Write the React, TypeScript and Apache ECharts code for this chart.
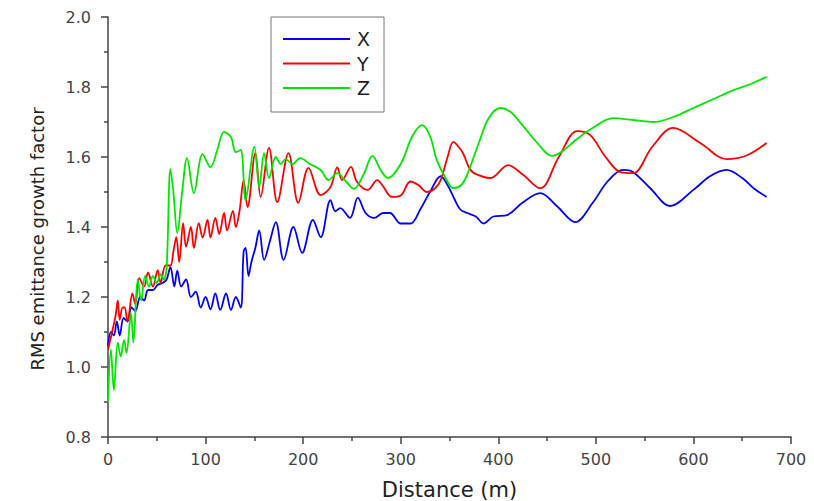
import React, { useEffect, useRef } from "react";
import * as echarts from "echarts";

const legendNames = ["X", "Y", "Z"];
const xTickValues = [0, 100, 200, 300, 400, 500, 600, 700];
const yTickValues = [0.8, 1.0, 1.2, 1.4, 1.6, 1.8, 2.0];

const seriesX: [number, number][] = [
  [0, 1.06], [3, 1.1], [6, 1.09], [9, 1.13], [12, 1.09], [16, 1.14], [20, 1.13], [24, 1.17],
  [28, 1.16], [33, 1.2], [37, 1.19], [41, 1.22], [46, 1.22], [51, 1.235], [56, 1.24], [60, 1.25],
  [64, 1.285], [68, 1.23], [71, 1.275], [75, 1.23], [80, 1.25], [85, 1.2], [90, 1.215], [95, 1.17],
  [100, 1.2], [105, 1.165], [110, 1.21], [115, 1.163], [121, 1.21], [126, 1.163], [131, 1.2],
  [136, 1.17], [139, 1.33], [141, 1.34], [144, 1.26], [147, 1.3], [151, 1.34], [155, 1.39],
  [160, 1.306], [166, 1.36], [172, 1.414], [180, 1.306], [190, 1.4], [199, 1.326], [210, 1.42],
  [218, 1.371], [228, 1.477], [233, 1.445], [238, 1.454], [248, 1.426], [256, 1.484], [264, 1.44],
  [273, 1.426], [282, 1.44], [289, 1.44], [300, 1.41], [310, 1.41], [320, 1.45], [330, 1.5],
  [341, 1.545], [348, 1.52], [355, 1.48], [361, 1.45], [368, 1.44], [377, 1.43], [385, 1.41],
  [395, 1.43], [409, 1.434], [425, 1.47], [443, 1.497], [460, 1.46], [479, 1.414], [497, 1.47],
  [512, 1.53], [528, 1.563], [538, 1.557], [556, 1.51], [576, 1.46], [600, 1.506], [617, 1.545],
  [634, 1.563], [650, 1.54], [662, 1.51], [675, 1.486],
];

const seriesY: [number, number][] = [
  [0, 1.05], [5, 1.11], [8, 1.15], [10, 1.19], [12, 1.135], [15, 1.17], [17, 1.17], [20, 1.13],
  [25, 1.21], [28, 1.18], [32, 1.254], [37, 1.23], [41, 1.27], [46, 1.23], [51, 1.277], [54, 1.24],
  [59, 1.29], [64, 1.29], [67, 1.33], [70, 1.371], [73, 1.3], [77, 1.411], [80, 1.343], [85, 1.4],
  [88, 1.34], [93, 1.411], [97, 1.37], [102, 1.42], [105, 1.37], [110, 1.426], [114, 1.38],
  [119, 1.44], [122, 1.39], [128, 1.446], [131, 1.4], [135, 1.45], [139, 1.534], [143, 1.457],
  [151, 1.611], [156.5, 1.486], [165, 1.626], [173.5, 1.471], [185, 1.611], [195, 1.469],
  [205.5, 1.569], [218, 1.491], [228, 1.514], [235, 1.57], [240, 1.534], [249, 1.572], [255, 1.53],
  [266, 1.506], [276, 1.534], [281, 1.52], [291, 1.486], [300, 1.49], [310, 1.53], [318, 1.52],
  [327, 1.5], [335, 1.51], [341, 1.534], [348, 1.6], [354, 1.643], [359, 1.63], [364, 1.61],
  [370, 1.57], [375, 1.554], [392, 1.54], [410, 1.577], [425, 1.55], [443, 1.511], [462, 1.6],
  [481, 1.674], [494, 1.663], [510, 1.6], [525, 1.557], [538, 1.554], [558, 1.63], [579, 1.683],
  [607, 1.64], [634, 1.594], [655, 1.605], [675, 1.64],
];

const seriesZ: [number, number][] = [
  [0, 0.9], [3, 1.05], [6, 0.934], [10, 1.07], [13, 1.03], [16.5, 1.077], [19, 1.04], [23.5, 1.154],
  [26, 1.07], [30.5, 1.25], [34, 1.19], [38, 1.26], [42, 1.23], [46, 1.26], [50, 1.24], [54, 1.265],
  [57, 1.25], [60, 1.28], [64, 1.565], [67, 1.5], [71, 1.383], [76, 1.5], [81, 1.597], [88, 1.497],
  [97, 1.608], [105, 1.571], [112, 1.62], [119, 1.672], [126, 1.657], [131, 1.614], [136, 1.62],
  [141, 1.477], [150, 1.629], [155, 1.514], [160, 1.611], [165, 1.54], [172, 1.6], [177, 1.58],
  [182, 1.594], [189, 1.58], [197, 1.597], [207, 1.58], [218, 1.563], [226, 1.534], [235, 1.554],
  [244, 1.53], [252, 1.509], [262, 1.55], [271, 1.603], [280, 1.56], [287, 1.54], [300, 1.58],
  [312, 1.66], [322, 1.691], [330, 1.66], [337, 1.591], [346, 1.54], [354, 1.511], [362, 1.52],
  [368, 1.549], [380, 1.64], [390, 1.71], [402, 1.74], [412, 1.73], [423, 1.697], [440, 1.64],
  [455, 1.603], [465, 1.615], [477, 1.643], [495, 1.68], [518, 1.711], [540, 1.705], [559, 1.7],
  [580, 1.715], [600, 1.74], [620, 1.765], [641, 1.791], [660, 1.81], [675, 1.829],
];

const seriesData = [seriesX, seriesY, seriesZ];
const seriesColors = ["#0000ff", "#ff0000", "#00e800"];

const FONT = "DejaVu Sans";

export default function App() {
  const ref = useRef<HTMLDivElement>(null);
  useEffect(() => {
    document.body.style.margin = "0";
    if (!ref.current) return;
    const chart = echarts.init(ref.current, null, { renderer: "svg" });
    const axisCommon = {
      axisLine: { show: true, lineStyle: { color: "#444", width: 1.5 } },
      axisTick: { show: true, inside: false, length: 7, lineStyle: { color: "#444", width: 1.5 } },
      minorTick: { show: true, splitNumber: 2, length: 4, lineStyle: { color: "#444", width: 1.5 } },
      splitLine: { show: false },
      minorSplitLine: { show: false },
    };
    chart.setOption({
      animation: false,
      backgroundColor: "#ffffff",
      grid: { left: 108, right: 23, top: 17, bottom: 64, containLabel: false, outerBoundsMode: "none" },
      legend: {
        data: legendNames.map((name) => ({ name, icon: "rect" })),
        orient: "vertical",
        left: 271,
        top: 17,
        padding: [12.5, 14, 14.5, 12],
        itemWidth: 67,
        itemHeight: 2,
        itemGap: 5.5,
        borderColor: "#777",
        borderWidth: 1,
        backgroundColor: "#fff",
        textStyle: { fontFamily: FONT, fontSize: 19, color: "#222", padding: [0, 0, 0, 2] },
      },
      xAxis: {
        type: "value",
        min: xTickValues[0],
        max: xTickValues[xTickValues.length - 1],
        interval: 100,
        name: "Distance (m)",
        nameLocation: "middle",
        nameGap: 42,
        nameTextStyle: { fontFamily: FONT, fontSize: 21, color: "#222" },
        axisLabel: { fontFamily: FONT, fontSize: 16, color: "#444", margin: 14 },
        ...axisCommon,
      },
      yAxis: {
        type: "value",
        min: yTickValues[0],
        max: yTickValues[yTickValues.length - 1],
        interval: 0.2,
        name: "RMS emittance growth factor",
        nameLocation: "middle",
        nameGap: 62,
        nameTextStyle: { fontFamily: FONT, fontSize: 18, color: "#222", padding: [0, 24, 0, 0] },
        axisLabel: {
          fontFamily: FONT,
          fontSize: 16,
          color: "#444",
          margin: 17,
          formatter: (v: number) => v.toFixed(1),
        },
        ...axisCommon,
      },
      series: legendNames.map((name, i) => ({
        name,
        type: "line",
        data: seriesData[i],
        symbol: "none",
        smooth: 0.35,
        lineStyle: { color: seriesColors[i], width: 1.8 },
        itemStyle: { color: seriesColors[i] },
      })),
    });
    return () => chart.dispose();
  }, []);
  return <div ref={ref} style={{ width: 814, height: 501 }} />;
}
